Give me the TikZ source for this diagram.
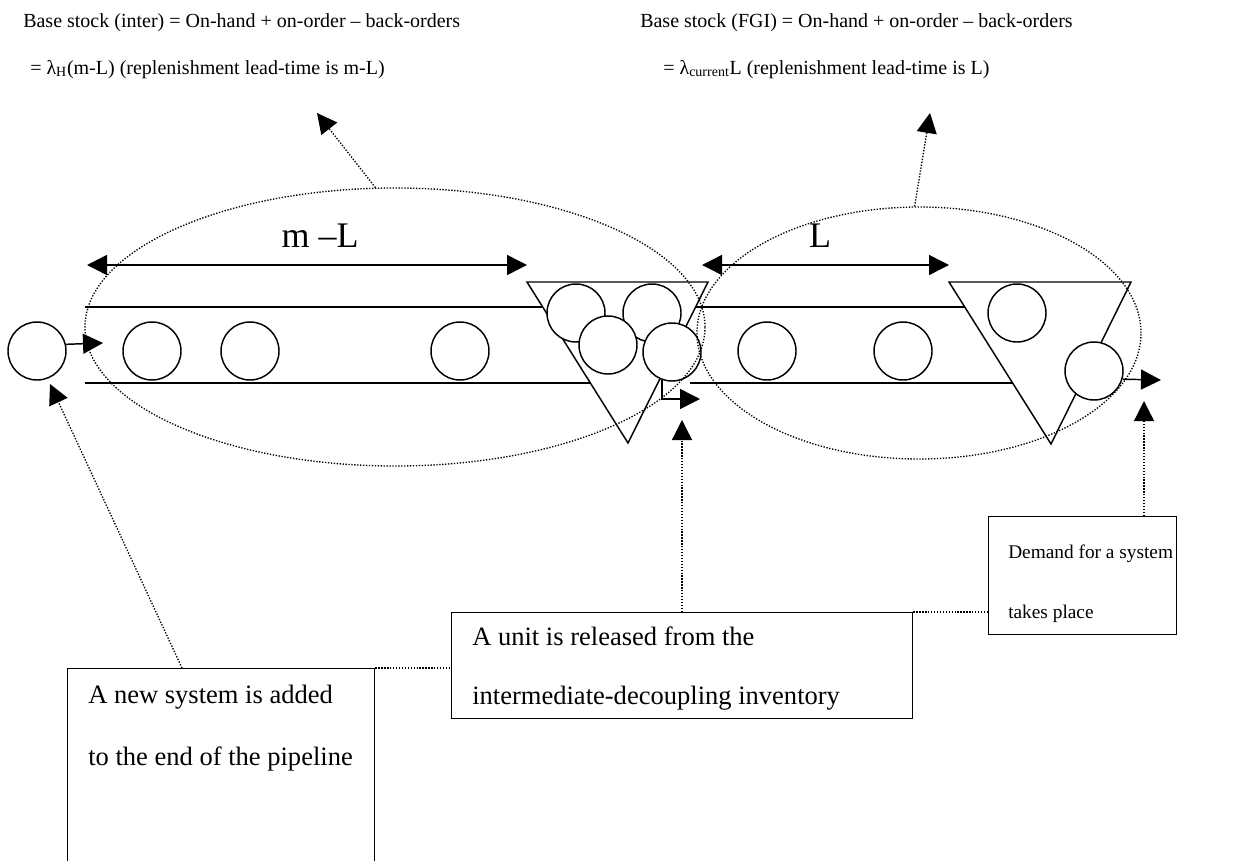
\documentclass[tikz,border=0pt]{standalone}
\usepackage{fontspec}
\setmainfont{Liberation Serif}
\usetikzlibrary{arrows.meta,shapes.geometric}
\begin{document}
\begin{tikzpicture}[x=0.75pt,y=-0.75pt,
  thick line/.style={line width=1.1pt},
  dotline/.style={line width=1pt, dash pattern=on 1pt off 1.2pt},
  tipend/.style={-{Triangle[length=15pt,width=15pt]}},
  tipboth/.style={{Triangle[length=15pt,width=15pt]}-{Triangle[length=15pt,width=15pt]}},
  unit/.style={circle, draw, line width=1.1pt, fill=white, minimum size=43.5pt, inner sep=0pt},
  zone/.style={ellipse, draw, dotline, inner sep=0pt},
  boxst/.style={draw, line width=1.1pt, inner sep=0pt, anchor=north west},
  toptext/.style={anchor=base west, inner sep=0pt, font=\fontsize{15}{18}\selectfont},
  boxtext/.style={anchor=base west, inner sep=0pt, font=\fontsize{19.9}{24}\selectfont},
  smallboxtext/.style={anchor=base west, inner sep=0pt, font=\fontsize{14.5}{18}\selectfont},
  seglabel/.style={inner sep=0pt, font=\fontsize{27}{32}\selectfont},
]
\useasboundingbox (0,0) rectangle (1259,860);

% top texts
\node[toptext] (t1) at (23,27) {Base stock (inter) = On-hand + on-order -- back-orders};
\node[toptext] (t2) at (30,74) {= λ\textsubscript{H}(m-L) (replenishment lead-time is m-L)};
\node[toptext] (t3) at (640,27) {Base stock (FGI) = On-hand + on-order -- back-orders};
\node[toptext] (t4) at (663,74) {= λ\textsubscript{current}L (replenishment lead-time is L)};

% pipeline lines
\coordinate (p1a) at (85,307);  \coordinate (p1b) at (560,307);
\coordinate (p2a) at (85,383);  \coordinate (p2b) at (600,383);
\coordinate (p3a) at (696,307); \coordinate (p3b) at (980,307);
\coordinate (p4a) at (690,383); \coordinate (p4b) at (1020,383);
\draw[thick line] (p1a) -- (p1b);
\draw[thick line] (p2a) -- (p2b);
\draw[thick line] (p3a) -- (p3b);
\draw[thick line] (p4a) -- (p4b);

% inventory triangles
\draw[thick line, fill=white] (527,282) -- (708,282) -- (628,443) -- cycle;
\draw[thick line, fill=white] (949,282) -- (1131,282) -- (1051,444) -- cycle;

% units
\node[unit] (c0) at (37,351) {};
\node[unit] (c1) at (152,351) {};
\node[unit] (c2) at (250,351) {};
\node[unit] (c3) at (460,351) {};
\node[unit] (ia) at (576,313) {};
\node[unit] (ib) at (652,313) {};
\node[unit] (ic) at (608,345) {};
\node[unit] (id) at (672,352) {};
\node[unit] (c4) at (767,351) {};
\node[unit] (c5) at (903,351) {};
\node[unit] (fa) at (1017,313) {};
\node[unit] (fb) at (1094,371) {};

% flow arrows
\coordinate (in0) at (103,343);
\draw[thick line, tipend] (c0.13) -- (in0);
\coordinate (out1) at (700,399);
\draw[thick line, tipend] (id.-110) |- (out1);
\coordinate (out2) at (1161,380);
\draw[thick line, tipend] (fb.-16) -- (out2);

% lead-time arrows
\coordinate (ml1) at (87,265); \coordinate (ml2) at (527,265);
\coordinate (l1) at (702,265); \coordinate (l2) at (949,265);
\draw[thick line, tipboth] (ml1) -- (ml2);
\draw[thick line, tipboth] (l1) -- (l2);
\node[seglabel] (mlab) at (320,236) {m --L};
\node[seglabel] (llab) at (820,236) {L};

% zones
\node[zone, minimum width=465pt, minimum height=208.5pt] (e1) at (395,327) {};
\node[zone, minimum width=333pt, minimum height=189pt] (e2) at (919,333) {};
\coordinate (a1) at (317,113);
\coordinate (a2) at (930,113);
\draw[dotline, tipend] (e1.98) -- (a1);
\draw[dotline, tipend] (e2.92) -- (a2);

% boxes
\node[boxst, minimum width=230.25pt, minimum height=165pt] (b1) at (67,668) {};
\node[boxst, minimum width=345.75pt, minimum height=79.5pt] (b2) at (451,612) {};
\node[boxst, minimum width=141pt, minimum height=88.5pt] (b3) at (988,516) {};

\node[boxtext] (b1l1) at (88,703) {A new system is added};
\node[boxtext] (b1l2) at (88,765) {to the end of the pipeline};
\node[boxtext] (b2l1) at (472,645) {A unit is released from the};
\node[boxtext] (b2l2) at (472,704) {intermediate-decoupling inventory};
\node[smallboxtext] (b3l1) at (1008,558) {Demand for a system};
\node[smallboxtext] (b3l2) at (1008,618) {takes place};

% callout connectors
\coordinate (b1t) at (182,668);
\coordinate (a3) at (50,384);
\draw[dotline, tipend] (b1t) -- (a3);
\draw[dotline] (b1.north east) -- (b1.north east -| b2.west);
\coordinate (b2t) at (682,612);
\coordinate (a4) at (682,420);
\draw[dotline, tipend] (b2t) -- (a4);
\draw[dotline] (b2.north east) -- (b2.north east -| b3.west);
\coordinate (b3t) at (1144,516);
\coordinate (a5) at (1144,401);
\draw[dotline, tipend] (b3t) -- (a5);
\end{tikzpicture}
\end{document}
